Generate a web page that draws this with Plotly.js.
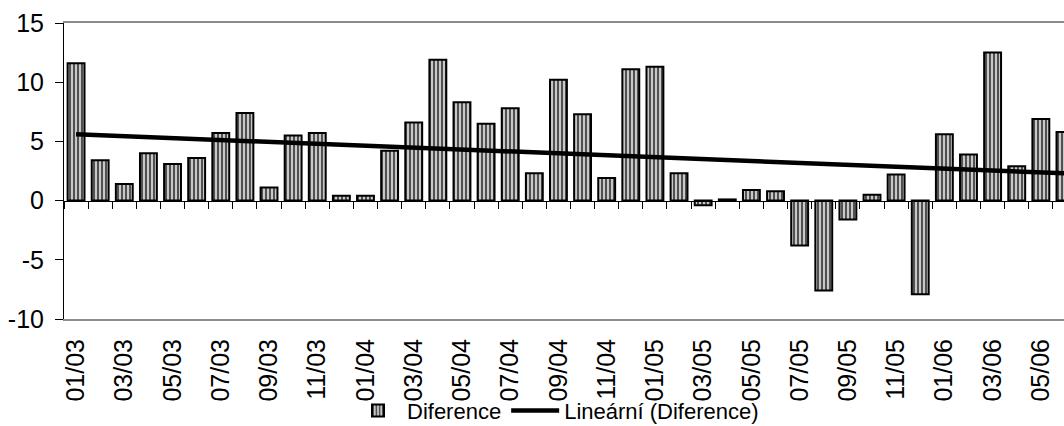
<!DOCTYPE html>
<html>
<head>
<meta charset="utf-8">
<script src="https://cdn.plot.ly/plotly-3.0.1.min.js"></script>
<style>
  html, body { margin: 0; padding: 0; background: #fff; overflow: hidden; }
  #chart { width: 1064px; height: 426px; }
</style>
</head>
<body>
<div id="chart"></div>
<script>
// Monthly categories, 01/03 .. 06/06
const months = [
  "01/03","02/03","03/03","04/03","05/03","06/03","07/03","08/03","09/03","10/03","11/03","12/03",
  "01/04","02/04","03/04","04/04","05/04","06/04","07/04","08/04","09/04","10/04","11/04","12/04",
  "01/05","02/05","03/05","04/05","05/05","06/05","07/05","08/05","09/05","10/05","11/05","12/05",
  "01/06","02/06","03/06","04/06","05/06","06/06"
];

// Diference per month
const diference = [
  11.6, 3.4, 1.4, 4.0, 3.1, 3.6, 5.7, 7.4, 1.1, 5.5, 5.7, 0.4,
  0.4, 4.2, 6.6, 11.9, 8.3, 6.5, 7.8, 2.3, 10.2, 7.3, 1.9, 11.1,
  11.3, 2.3, -0.4, 0.1, 0.9, 0.8, -3.8, -7.6, -1.6, 0.5, 2.2, -7.9,
  5.6, 3.9, 12.5, 2.9, 6.9, 5.8
];

// Linear trend, value at the first and last month
const trendEnds = [5.6, 2.3];

// Labelled months on the category axis (every second month)
const tickLabels = months.filter((m, i) => i % 2 === 0);

// Value axis ticks, written with a plain hyphen for negatives
const yTicks = [-10, -5, 0, 5, 10, 15];
const yTickText = ["-10", "-5", "0", "5", "10", "15"];

const FONT = "Liberation Sans, Arial, sans-serif";

const bars = {
  type: "bar",
  name: "Diference",
  x: months,
  y: diference,
  marker: {
    color: "#c8c8c8",
    line: { color: "#000", width: 2 },
    pattern: { shape: "|", fgcolor: "#000", bgcolor: "#c8c8c8", size: 4, solidity: 0.3 }
  },
  hoverinfo: "x+y"
};

const trend = {
  type: "scatter",
  mode: "lines",
  name: "Lineární (Diference)",
  x: [months[0], months[months.length - 1]],
  y: trendEnds,
  line: { color: "#000", width: 4.5 },
  hoverinfo: "skip"
};

const xRange = [-0.5, 40.96];

const layout = {
  width: 1064,
  height: 426,
  margin: { l: 64, r: 0, t: 23, b: 107 },
  paper_bgcolor: "#fff",
  plot_bgcolor: "#fff",
  font: { family: FONT, size: 25, color: "#000" },
  bargap: 0.3,
  showlegend: true,
  legend: {
    orientation: "h",
    xref: "paper", x: 0.285, xanchor: "left",
    yref: "container", y: 0.036, yanchor: "middle",
    font: { family: FONT, size: 22, color: "#000" },
    itemwidth: 48,
    bgcolor: "rgba(0,0,0,0)"
  },
  xaxis: {
    type: "category",
    categoryorder: "array",
    categoryarray: months,
    range: xRange,
    showline: true, linecolor: "#8c8c8c", linewidth: 2, mirror: true,
    ticks: "",
    tickmode: "array",
    tickvals: tickLabels,
    ticktext: tickLabels,
    tickangle: -90,
    ticklabelstandoff: 8,
    tickfont: { family: FONT, size: 25, color: "#000" },
    showgrid: false, zeroline: false,
    automargin: false,
    fixedrange: true
  },
  // Axis line through zero with tick marks between months
  xaxis2: {
    type: "category",
    overlaying: "x",
    anchor: "free",
    position: 0.4,
    categoryorder: "array",
    categoryarray: months,
    range: xRange,
    showline: true, linecolor: "#000", linewidth: 1.5,
    ticks: "outside", tickson: "boundaries", ticklen: 7, tickwidth: 1, tickcolor: "#000",
    tickmode: "linear", tick0: 0, dtick: 1,
    showticklabels: false,
    showgrid: false, zeroline: false,
    automargin: false,
    fixedrange: true
  },
  yaxis: {
    range: [-10, 15],
    tickmode: "array", tickvals: yTicks, ticktext: yTickText,
    showline: true, linecolor: "#000", linewidth: 1,
    ticks: "outside", ticklen: 8, tickwidth: 1, tickcolor: "#000",
    ticklabelstandoff: 6,
    tickfont: { family: FONT, size: 25, color: "#000" },
    showgrid: false, zeroline: false,
    automargin: false,
    fixedrange: true
  }
};

// Keep a trace on x2 so its categories (and boundary ticks) are defined
const axisHelper = {
  type: "scatter", mode: "markers", x: months, y: months.map(() => 0),
  xaxis: "x2", yaxis: "y",
  marker: { opacity: 0, size: 1 }, showlegend: false, hoverinfo: "skip"
};

Plotly.newPlot("chart", [bars, trend, axisHelper], layout, { displayModeBar: false, staticPlot: true });
</script>
</body>
</html>
